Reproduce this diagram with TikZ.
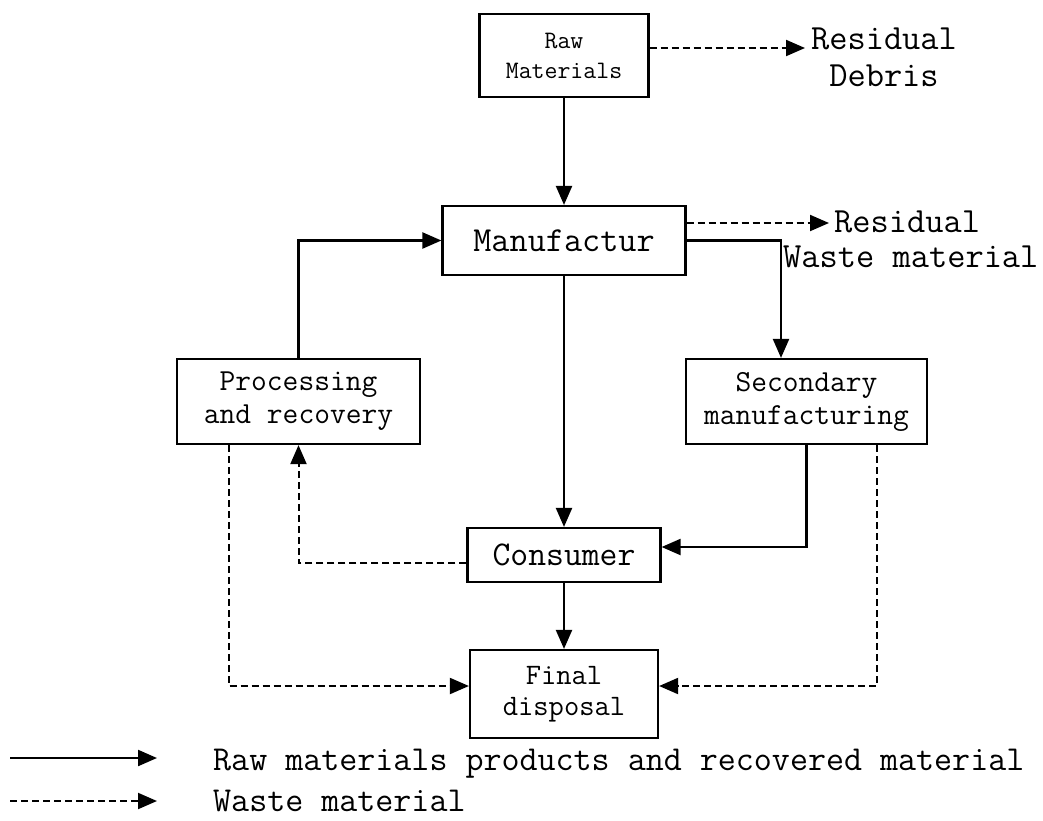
\documentclass[tikz,border=0pt]{standalone}
\usepackage{fontspec}
\renewcommand{\familydefault}{\ttdefault}
\usetikzlibrary{arrows.meta,calc}
\begin{document}
\begin{tikzpicture}[x=1pt,y=-1pt,
  box/.style={draw,line width=2.2pt,rectangle,inner sep=0pt,align=center},
  flow/.style={line width=2.2pt,-{Triangle[length=19pt,width=16pt]}},
  waste/.style={line width=2pt,dash pattern=on 7pt off 4pt,-{Triangle[length=19pt,width=16pt]}},
  txt/.style={inner sep=0pt,align=left}]
\useasboundingbox (0,0) rectangle (1043,820);

% process boxes
\node[box,minimum width=169pt,minimum height=83pt,font=\fontsize{25.1}{30}\selectfont] (raw) at (564,55.5) {Raw\\Materials};
\node[box,minimum width=243pt,minimum height=69pt,font=\fontsize{35.2}{40}\selectfont] (manuf) at (564,240.5) {Manufactur};
\node[box,minimum width=243pt,minimum height=85pt,font=\fontsize{30.6}{33}\selectfont] (proc) at (298.5,401.5) {Processing\\and recovery};
\node[box,minimum width=241pt,minimum height=85pt,font=\fontsize{30.6}{33}\selectfont] (sec) at (806.5,401.5) {Secondary\\manufacturing};
\node[box,minimum width=193pt,minimum height=54pt,font=\fontsize{34.7}{40}\selectfont] (consumer) at (564,555) {Consumer};
\node[box,minimum width=188pt,minimum height=88pt,font=\fontsize{29.7}{31}\selectfont] (final) at (564,694) {Final\\disposal};

% residue labels
\node[txt,align=center,font=\fontsize{35.4}{37}\selectfont] (debris) at (884,57) {Residual\\Debris};
\node[txt,anchor=west,font=\fontsize{35.4}{37}\selectfont] (resid) at (834,222) {Residual};
\node[txt,anchor=west,font=\fontsize{35.4}{37}\selectfont] (wastemat) at (783,257) {Waste material};

% residue outputs
\coordinate (rdtip) at (805,48);
\draw[waste] (raw.east |- rdtip) -- (rdtip);
\coordinate (rwtip) at (829,223);
\draw[waste] (manuf.east |- rwtip) -- (rwtip);

% material flows
\draw[flow] (raw) -- (manuf);
\draw[flow] (manuf.east) -| ($(sec.north)+(-25.5,0)$);
\draw[flow] (proc.north) |- (manuf.west);
\draw[flow] (manuf) -- (consumer);
\draw[flow] (sec.south) |- ($(consumer.east)+(0,-8)$);
\draw[flow] (consumer) -- (final);

% waste flows
\draw[waste] ($(consumer.west)+(0,8)$) -| (proc.south);
\draw[waste] ($(proc.south)+(-70,0)$) |- ($(final.west)+(0,-8)$);
\draw[waste] ($(sec.south)+(70.5,0)$) |- ($(final.east)+(0,-8)$);

% legend
\coordinate (l1a) at (10,758);
\coordinate (l1b) at (157,758);
\coordinate (l2a) at (10,801);
\coordinate (l2b) at (157,801);
\draw[flow] (l1a) -- (l1b);
\draw[waste] (l2a) -- (l2b);
\node[txt,anchor=west,font=\fontsize{35}{40}\selectfont] (leg1) at (213,764) {Raw materials products and recovered material};
\node[txt,anchor=west,font=\fontsize{35}{40}\selectfont] (leg2) at (213,801) {Waste material};
\end{tikzpicture}
\end{document}
